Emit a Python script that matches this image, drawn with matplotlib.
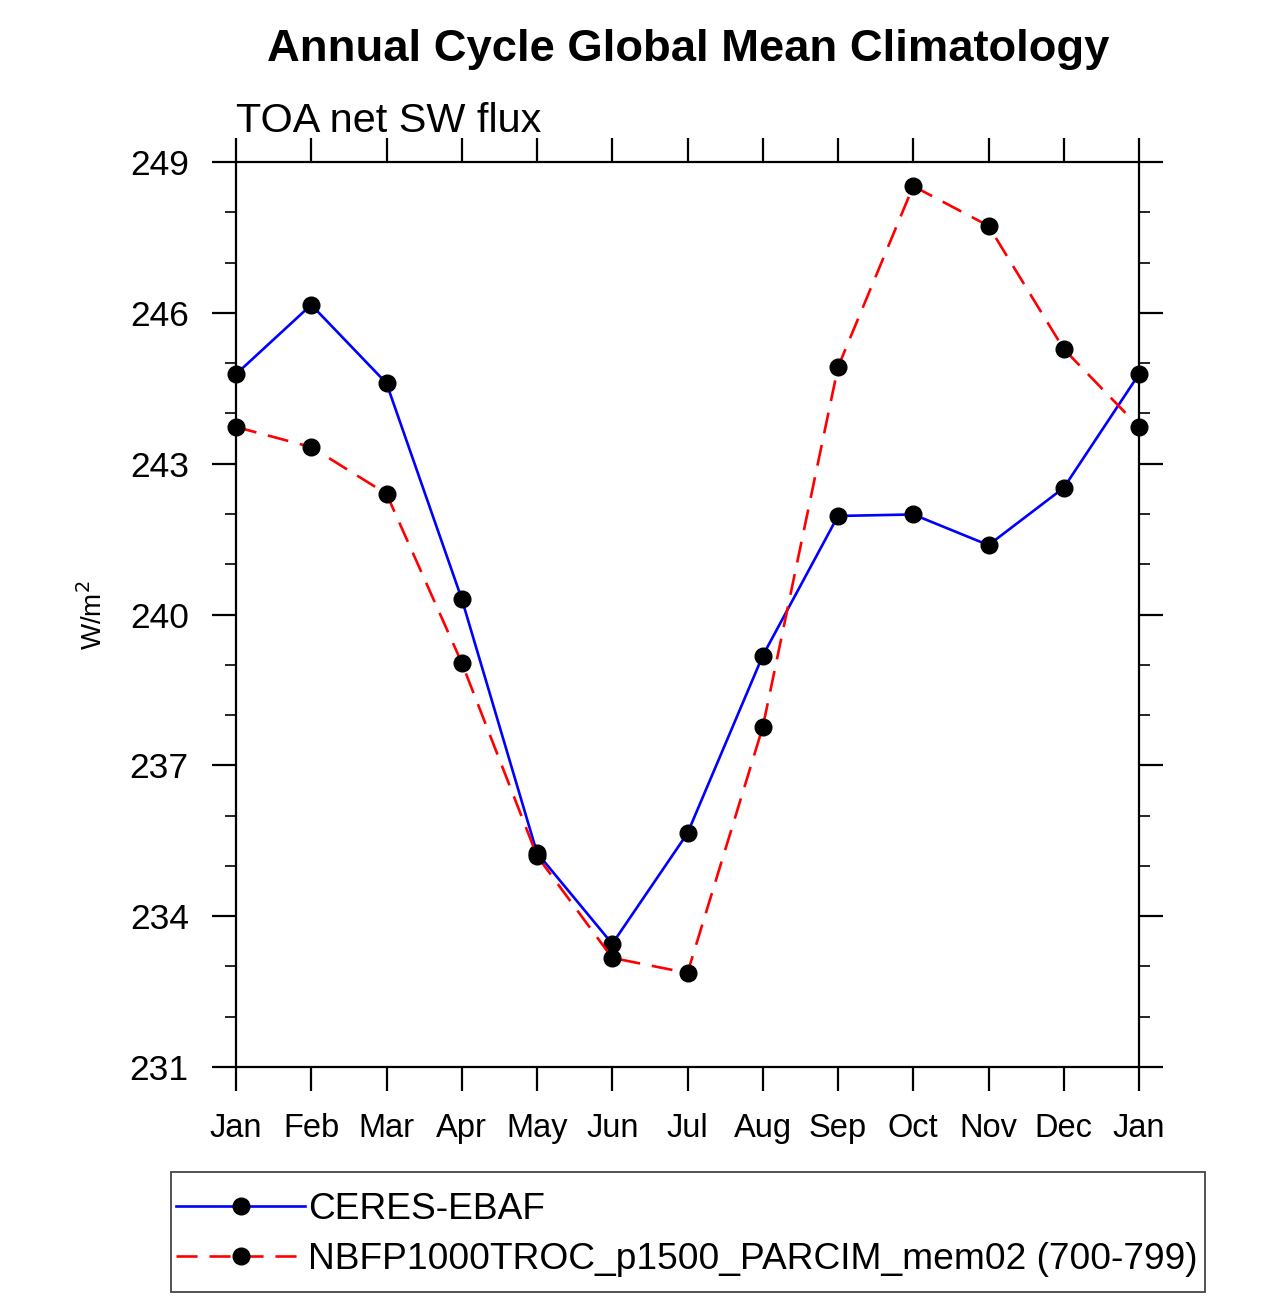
import matplotlib
matplotlib.use("Agg")
import matplotlib.pyplot as plt
from matplotlib.patches import Rectangle
import numpy as np

months = ["Jan", "Feb", "Mar", "Apr", "May", "Jun", "Jul", "Aug", "Sep", "Oct", "Nov", "Dec", "Jan"]
ceres = [244.78, 246.16, 244.60, 240.31, 235.26, 233.45, 235.65, 239.18, 241.96, 241.99, 241.38, 242.52, 244.78]
model = [243.73, 243.33, 242.40, 239.04, 235.20, 233.17, 232.87, 237.76, 244.92, 248.52, 247.73, 245.28, 243.73]
yticks = [231, 234, 237, 240, 243, 246, 249]
label_ceres = "CERES-EBAF"
label_model = "NBFP1000TROC_p1500_PARCIM_mem02 (700-799)"

plt.rcParams['font.family'] = ['Liberation Sans', 'DejaVu Sans']

fig = plt.figure(figsize=(12.85, 12.99), dpi=100)
W, H = 1285, 1299
ax = fig.add_axes([236 / W, 1 - 1067 / H, (1139 - 236) / W, (1067 - 162) / H])

x = np.arange(len(months))
ax.plot(x, ceres, color='blue', lw=1.9, marker='o', ms=12, mfc='black', mec='black',
        label=label_ceres, zorder=3, clip_on=False)
ax.plot(x, model, color='red', lw=1.9, ls=(0, (8, 4.5)), marker='o', ms=12, mfc='black',
        mec='black', label=label_model, zorder=3, clip_on=False)

ax.set_xlim(0, len(months) - 1)
ax.set_ylim(231, 249)
ax.set_xticks(x)
ax.set_xticklabels(months, fontsize=23.5)
ax.set_yticks(yticks)
ax.set_yticklabels([str(v) for v in yticks], fontsize=25.5)
ax.set_yticks(np.arange(231, 250, 1), minor=True)

for s in ax.spines.values():
    s.set_linewidth(1.6)

ax.tick_params(axis='both', which='major', direction='out', length=17, width=1.6,
               top=True, right=True, labeltop=False, labelright=False)
ax.tick_params(axis='y', which='minor', direction='out', length=8, width=1.2,
               left=True, right=True)
ax.tick_params(axis='x', which='major', pad=16)
ax.tick_params(axis='y', which='major', pad=17)

fig.text(93 / W, 1 - 615 / H, "W/m$^2$", fontsize=20, rotation=90, ha='center', va='center')

fig.text(688 / W, 1 - 50 / H, "Annual Cycle Global Mean Climatology", fontsize=32.7,
         fontweight='bold', ha='center', va='center')
fig.text(236 / W, 1 - 121 / H, "TOA net SW flux", fontsize=29.8, ha='left', va='center')

fs = 26.7
leg = fig.legend(loc='upper left', bbox_to_anchor=(176 / W, 1 - 1192 / H),
                 fontsize=fs, handlelength=3.48, handletextpad=0.08, borderpad=0,
                 labelspacing=0.4, borderaxespad=0, frameon=False)
fig.add_artist(Rectangle((171 / W, 1 - 1292 / H), (1205 - 171) / W, (1292 - 1172) / H,
                         transform=fig.transFigure, fill=False, edgecolor='#444444', lw=1.3))

fig.savefig("out.png", dpi=100)
